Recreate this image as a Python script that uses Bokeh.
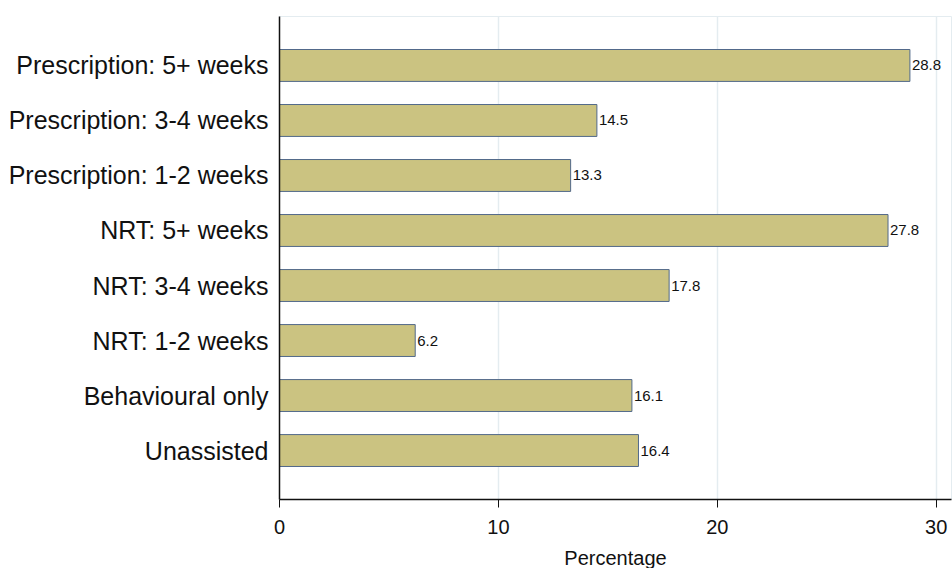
from bokeh.plotting import figure
from bokeh.models import ColumnDataSource, FactorRange, Range1d, FixedTicker
from bokeh.embed import file_html
from bokeh.resources import INLINE
from bokeh.core.properties import value

categories = ["Prescription: 5+ weeks", "Prescription: 3-4 weeks", "Prescription: 1-2 weeks",
              "NRT: 5+ weeks", "NRT: 3-4 weeks", "NRT: 1-2 weeks",
              "Behavioural only", "Unassisted"]
percentages = [28.8, 14.5, 13.3, 27.8, 17.8, 6.2, 16.1, 16.4]
x_ticks = [0, 10, 20, 30]

cats_bottom_up = list(reversed(categories))
vals_bottom_up = list(reversed(percentages))
src = ColumnDataSource(dict(cat=cats_bottom_up, val=vals_bottom_up,
                            lab=["%.1f" % v for v in vals_bottom_up]))

FONT = "Liberation Sans"

p = figure(y_range=FactorRange(factors=cats_bottom_up, range_padding=0.0975),
           x_range=Range1d(0, 30.7),
           frame_width=672, frame_height=483,
           output_backend="svg", toolbar_location=None,
           min_border_left=279, min_border_top=16, min_border_right=1, min_border_bottom=5)

p.hbar(y="cat", right="val", left=0, height=0.58, source=src,
       fill_color="#cbc381", line_color="#52698a", line_width=1)
p.text(x="val", y="cat", text="lab", source=src, x_offset=2,
       text_baseline="middle", text_align="left",
       text_font=value(FONT), text_font_size="15px", text_color="#111111")

p.outline_line_color="#e4ecf0"
p.background_fill_color="white"
p.ygrid.grid_line_color=None
p.xgrid.grid_line_color="#e4ecf0"
p.xgrid.grid_line_width=1.5

p.xaxis.ticker = FixedTicker(ticks=x_ticks)
p.xaxis.axis_label = "Percentage"
p.xaxis.axis_label_text_font = FONT
p.xaxis.axis_label_text_font_style = "normal"
p.xaxis.axis_label_text_font_size = "20px"
p.xaxis.axis_label_text_color = "#111111"
p.xaxis.axis_label_standoff = 10
p.xaxis.major_label_text_font = FONT
p.xaxis.major_label_text_font_size = "20px"
p.xaxis.major_label_text_color = "#111111"
p.xaxis.major_label_standoff = 12
p.xaxis.major_tick_out = 8
p.xaxis.major_tick_in = 0
p.xaxis.minor_tick_line_color = None
p.xaxis.axis_line_color = "#111111"
p.xaxis.axis_line_width = 1.5
p.xaxis.major_tick_line_color = "#111111"

p.yaxis.major_label_text_font = FONT
p.yaxis.major_label_text_font_size = "25px"
p.yaxis.major_label_text_color = "#111111"
p.yaxis.major_label_standoff = 5
p.yaxis.major_tick_line_color = None
p.yaxis.minor_tick_line_color = None
p.yaxis.axis_line_color = "#111111"
p.yaxis.axis_line_width = 1.5

open("out.html", "w").write(file_html(p, INLINE))
